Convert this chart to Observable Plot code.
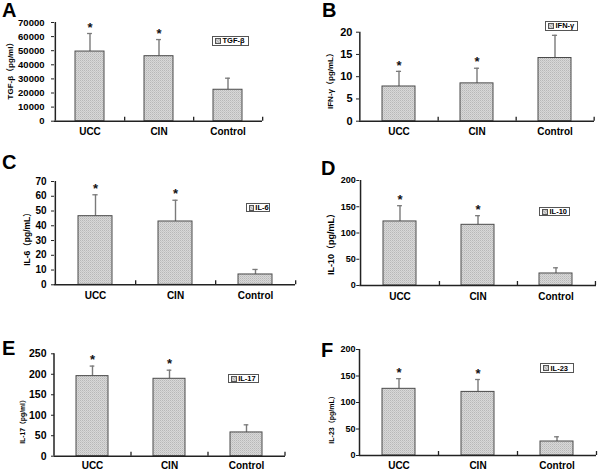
<!DOCTYPE html>
<html>
<head>
<meta charset="utf-8">
<script src="https://cdn.jsdelivr.net/npm/d3@7"></script>
<script src="https://cdn.jsdelivr.net/npm/@observablehq/plot@0.6"></script>
<style>
  html, body { margin: 0; padding: 0; background: #fff; }
  #root { position: relative; width: 600px; height: 472px; overflow: hidden; background: #fff;
          font-family: "Liberation Sans", Arial, "Noto Sans CJK SC", sans-serif; font-weight: bold; color: #000; }
  .plot { position: absolute; }
  .letter { position: absolute; font-size: 20px; line-height: 20px; font-weight: bold; }
  .ytitle { position: absolute; white-space: nowrap; font-weight: bold; transform: translate(-50%, -50%) rotate(-90deg);
            font-family: "Liberation Sans", Arial, "Noto Sans CJK SC", sans-serif; line-height: 1; }
  .legend { position: absolute; box-sizing: border-box; border: 1px solid #555; background: #fff;
            display: flex; align-items: center; padding-left: 2px; font-size: 7.5px; line-height: 1; white-space: nowrap; }
  .sw { display: inline-block; width: 4px; height: 4px; border: 1px solid #555; margin-right: 1.5px;
        background: repeating-linear-gradient(45deg, #bdbdbd 0 1px, #dcdcdc 1px 2px); }
</style>
</head>
<body>
<svg width="0" height="0" style="position:absolute">
  <defs>
    <pattern id="hatch" width="2" height="2" patternUnits="userSpaceOnUse">
      <rect width="2" height="2" fill="#d8d8d8"></rect>
      <rect x="0" y="0" width="1" height="1" fill="#b8b8b8"></rect>
      <rect x="1" y="1" width="1" height="1" fill="#c7c7c7"></rect>
    </pattern>
  </defs>
</svg>
<div id="root"></div>
<script>
// ---- data ----
const groups = ["UCC", "CIN", "Control"];
const significant = [true, true, false];

const tgfMean = [49400, 46100, 22300];
const tgfSD   = [12800, 11800, 8200];
const ifnMean = [7.8, 8.5, 14.2];
const ifnSD   = [3.4, 3.4, 5.1];
const il6Mean = [46.5, 42.9, 7.0];
const il6SD   = [14.5, 14.4, 3.4];
const il10Mean = [122, 115.6, 22.9];
const il10SD   = [30, 17.4, 10.8];
const il17Mean = [195.5, 189, 58];
const il17SD   = [24.5, 21, 18.6];
const il23Mean = [125.8, 120, 26.4];
const il23SD   = [19.2, 23.4, 8.9];

const panelLetters = ["A", "B", "C", "D", "E", "F"];
const yTitles = ["TGF-β（pg/ml）", "IFN-γ（pg/mL）", "IL-6（pg/mL）", "IL-10（pg/mL）", "IL-17（pg/ml）", "IL-23（pg/mL）"];
const legendLabels = ["TGF-β", "IFN-γ", "IL-6", "IL-10", "IL-17", "IL-23"];
const yMax = [70000, 20, 70, 200, 250, 200];
const yStep = [10000, 5, 10, 50, 50, 50];

// ---- layout (pixels) ----
const panels = [
  {means: tgfMean, sds: tgfSD, box: [0, 0, 300, 150], area: [54, 262, 22, 120.7], yFont: 9.5, yPad: 7, xPad: 7,
   letter: [2, 3], title: [10.5, 68.5, 8], legend: [212, 36, 37, 9.5]},
  {means: ifnMean, sds: ifnSD, box: [300, 0, 300, 150], area: [359, 594, 31.7, 120.7], yFont: 11, yPad: 4, xPad: 7,
   letter: [322, 3], title: [330.7, 79, 8], legend: [545, 21, 33, 10]},
  {means: il6Mean, sds: il6SD, box: [0, 150, 300, 160], area: [54, 295, 181, 284.3], yFont: 10, yPad: 5, xPad: 7,
   letter: [2, 155], title: [27, 236.5, 8.5], legend: [245.7, 203.3, 24, 9]},
  {means: il10Mean, sds: il10SD, box: [300, 150, 300, 160], area: [359.3, 596, 180, 285], yFont: 9, yPad: 1, xPad: 7,
   letter: [321, 161], title: [330.7, 242, 9], legend: [539, 207, 30.5, 9]},
  {means: il17Mean, sds: il17SD, box: [0, 310, 300, 162], area: [54, 285, 353.3, 455.7], yFont: 10.5, yPad: 5, xPad: 5.5,
   letter: [2, 341], title: [22.5, 420, 6.8], legend: [227.7, 374.3, 31.8, 8.8]},
  {means: il23Mean, sds: il23SD, box: [300, 310, 300, 162], area: [359, 596, 349, 455], yFont: 9, yPad: 1, xPad: 6,
   letter: [321, 343], title: [330.7, 417.5, 7], legend: [540, 363.3, 33.5, 10]}
];

const root = document.getElementById("root");

panels.forEach((p, k) => {
  const [ox, oy, W, H] = p.box;
  const [l, r, t, b] = p.area;
  const ymax = yMax[k];
  const data = groups.map((g, i) => ({g, m: p.means[i], e: p.means[i] + p.sds[i], sig: significant[i]}));
  const step = (r - l) / groups.length;
  const bw = step * 0.42;
  const perPx = ymax / (b - t);
  const ticks = d3.range(0, ymax + yStep[k] / 2, yStep[k]);

  const chart = Plot.plot({
    width: W, height: H,
    marginLeft: l - ox, marginRight: ox + W - r, marginTop: t - oy, marginBottom: oy + H - b,
    x: {domain: groups, paddingInner: 0.58, paddingOuter: 0.29, axis: null},
    y: {domain: [0, ymax], axis: null},
    style: {fontFamily: "'Liberation Sans', Arial, sans-serif", fontWeight: "bold", color: "#000",
            background: "transparent", overflow: "visible"},
    marks: [
      Plot.ruleX(data, {x: "g", y1: "m", y2: "e", stroke: "#7a7a7a", strokeWidth: 1.4}),
      Plot.tickY(data, {x: "g", y: "e", stroke: "#7a7a7a", strokeWidth: 1.3,
                        insetLeft: (bw - 5) / 2, insetRight: (bw - 5) / 2}),
      Plot.barY(data, {x: "g", y: "m", fill: "url(#hatch)", stroke: "#4a4a4a", strokeWidth: 1}),
      Plot.text(data.filter(d => d.sig), {x: "g", y: "e", text: () => "*", dy: -6, fontSize: 13,
                fontWeight: "bold", fill: "#111"}),
      Plot.ruleY([0], {stroke: "#222", strokeWidth: 1.5}),
      Plot.ruleX([groups[0]], {x: d => d, dx: -step / 2, y1: 0, y2: ymax, stroke: "#222", strokeWidth: 1.5}),
      Plot.ruleX(groups, {x: d => d, dx: step / 2, y1: 0, y2: 4 * perPx, stroke: "#222", strokeWidth: 1.3}),
      Plot.axisY({ticks, tickSize: 3, tickPadding: p.yPad, fontSize: p.yFont, label: null, stroke: "#222",
                  tickFormat: d => String(d)}),
      Plot.axisX({tickSize: 0, tickPadding: p.xPad, fontSize: 10, label: null})
    ]
  });
  chart.classList.add("plot");
  chart.style.left = ox + "px";
  chart.style.top = oy + "px";
  root.appendChild(chart);

  // panel letter
  const L = document.createElement("div");
  L.className = "letter";
  L.textContent = panelLetters[k];
  L.style.left = p.letter[0] + "px";
  L.style.top = Math.max(0, p.letter[1] - 2.6) + "px";
  root.appendChild(L);

  // y-axis title
  const T = document.createElement("div");
  T.className = "ytitle";
  T.textContent = yTitles[k];
  T.style.left = p.title[0] + "px";
  T.style.top = p.title[1] + "px";
  T.style.fontSize = p.title[2] + "px";
  root.appendChild(T);

  // legend
  const G = document.createElement("div");
  G.className = "legend";
  G.style.left = p.legend[0] + "px";
  G.style.top = p.legend[1] + "px";
  G.style.width = p.legend[2] + "px";
  G.style.height = p.legend[3] + "px";
  const sw = document.createElement("span");
  sw.className = "sw";
  G.appendChild(sw);
  G.appendChild(document.createTextNode(legendLabels[k]));
  root.appendChild(G);
});
</script>
</body>
</html>
